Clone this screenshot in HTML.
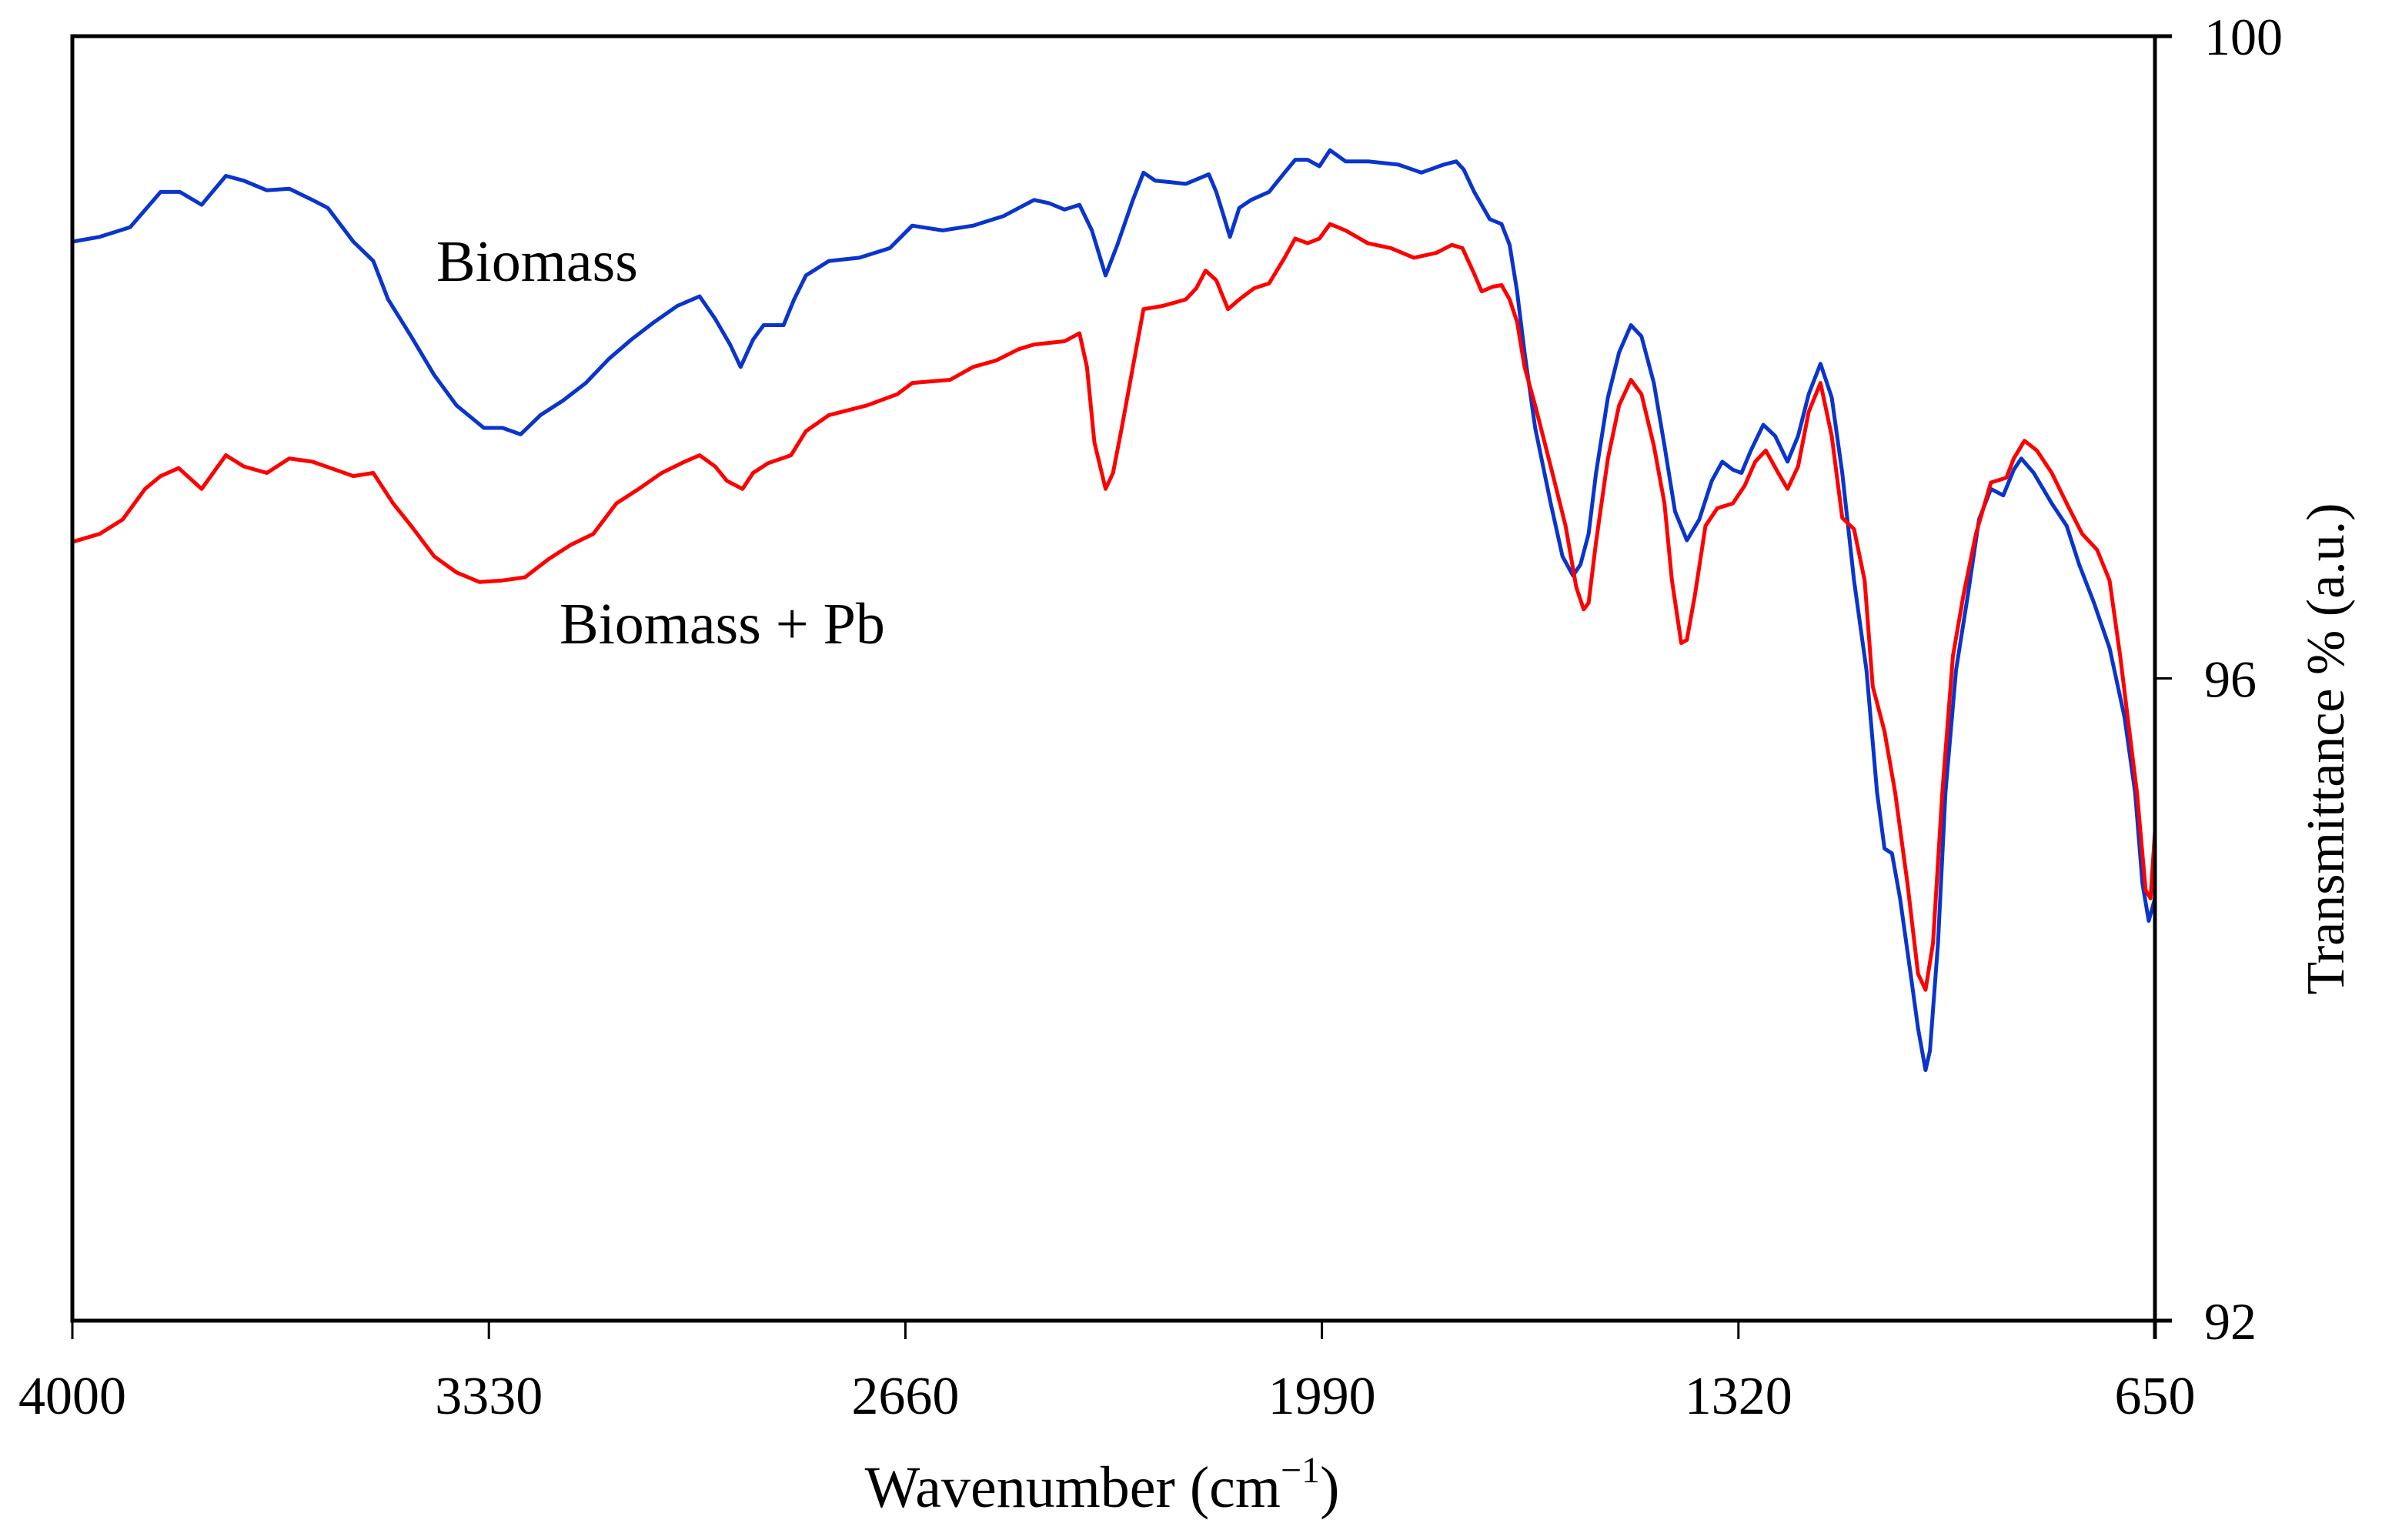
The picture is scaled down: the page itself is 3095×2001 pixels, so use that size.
<!DOCTYPE html>
<html><head><meta charset="utf-8"><style>
html,body{margin:0;padding:0;background:#fff;}
svg{display:block;font-family:"Liberation Serif",serif;}
</style></head><body>
<svg id="chart" width="3095" height="2001" viewBox="0 0 3095 2001" xmlns="http://www.w3.org/2000/svg">
<rect x="0" y="0" width="3095" height="2001" fill="#fff"/>
<g id="series"></g>
<g id="axes"></g>
<text x="567" y="365" font-size="76">Biomass</text>
<text x="727" y="836" font-size="76">Biomass + Pb</text>
<text x="1432" y="1958" font-size="76" text-anchor="middle">Wavenumber (cm<tspan dy="-32" font-size="48">−1</tspan><tspan dy="32">)</tspan></text>
<text transform="translate(3045,973) rotate(-90)" font-size="70" text-anchor="middle">Transmittance % (a.u.)</text>
</svg>
<script>
const xTicks = [4000, 3330, 2660, 1990, 1320, 650];
const yTicks = [100, 96, 92];
const blueWn = [4000,3956,3907,3858,3827,3792,3753,3724,3687,3651,3614,3589,3548,3516,3492,3455,3418,3382,3338,3308,3279,3247,3211,3174,3137,3101,3064,3027,2991,2966,2942,2925,2905,2888,2856,2839,2820,2783,2734,2685,2649,2600,2551,2502,2453,2429,2404,2380,2360,2338,2319,2294,2277,2258,2233,2209,2184,2172,2160,2148,2138,2123,2104,2075,2050,2033,2013,1994,1977,1952,1916,1867,1830,1794,1774,1762,1745,1720,1701,1688,1676,1664,1647,1622,1603,1586,1574,1561,1549,1530,1512,1493,1476,1456,1439,1422,1403,1383,1363,1346,1329,1315,1300,1280,1261,1241,1224,1207,1188,1170,1153,1134,1114,1097,1085,1073,1060,1043,1031,1019,1012,999,987,970,951,933,914,894,877,865,845,816,792,772,748,723,699,682,670,660,650];
const blueT = [98.72,98.75,98.81,99.03,99.03,98.95,99.13,99.10,99.04,99.05,98.98,98.93,98.72,98.60,98.36,98.13,97.89,97.70,97.56,97.56,97.52,97.64,97.73,97.84,97.99,98.11,98.22,98.32,98.38,98.24,98.08,97.94,98.11,98.20,98.20,98.36,98.51,98.60,98.62,98.68,98.82,98.79,98.82,98.88,98.98,98.96,98.92,98.95,98.79,98.51,98.70,98.98,99.15,99.10,99.09,99.08,99.12,99.14,99.03,98.88,98.75,98.93,98.98,99.03,99.15,99.23,99.23,99.19,99.29,99.22,99.22,99.20,99.15,99.20,99.22,99.17,99.03,98.86,98.83,98.70,98.41,98.03,97.56,97.09,96.76,96.64,96.71,96.90,97.28,97.75,98.03,98.20,98.13,97.84,97.45,97.04,96.86,96.99,97.23,97.35,97.30,97.28,97.42,97.58,97.51,97.35,97.51,97.77,97.96,97.75,97.28,96.61,96.05,95.29,94.94,94.91,94.63,94.16,93.82,93.56,93.68,94.35,95.29,96.05,96.52,96.99,97.18,97.14,97.30,97.37,97.28,97.09,96.95,96.71,96.47,96.19,95.76,95.29,94.72,94.49,94.63];
const redWn = [4000,3956,3919,3883,3858,3829,3792,3753,3724,3687,3651,3614,3577,3548,3516,3484,3455,3418,3382,3345,3308,3272,3235,3199,3162,3125,3089,3052,3015,2991,2966,2947,2922,2905,2881,2844,2820,2783,2722,2673,2649,2588,2551,2514,2478,2453,2404,2380,2368,2356,2338,2326,2312,2294,2277,2246,2209,2192,2177,2160,2141,2123,2099,2075,2050,2033,2013,1994,1977,1952,1916,1879,1842,1806,1781,1764,1745,1733,1715,1701,1688,1676,1664,1647,1622,1598,1581,1569,1561,1549,1530,1512,1493,1476,1456,1439,1427,1412,1403,1390,1373,1354,1329,1310,1293,1276,1256,1241,1224,1207,1188,1170,1153,1134,1117,1104,1085,1068,1048,1031,1019,1007,992,975,958,938,914,889,877,860,840,816,792,767,743,723,706,694,679,665,657,650];
const redT = [96.85,96.90,96.99,97.18,97.26,97.31,97.18,97.39,97.32,97.28,97.37,97.35,97.30,97.26,97.28,97.09,96.95,96.76,96.66,96.60,96.61,96.63,96.74,96.83,96.90,97.09,97.18,97.28,97.35,97.39,97.32,97.23,97.18,97.28,97.34,97.39,97.54,97.64,97.70,97.77,97.84,97.86,97.94,97.98,98.05,98.08,98.10,98.15,97.94,97.47,97.18,97.28,97.56,97.94,98.30,98.32,98.36,98.43,98.54,98.48,98.30,98.36,98.43,98.46,98.62,98.74,98.71,98.74,98.83,98.79,98.71,98.68,98.62,98.65,98.70,98.68,98.52,98.41,98.44,98.45,98.36,98.22,97.94,97.70,97.32,96.95,96.57,96.43,96.47,96.85,97.37,97.70,97.86,97.77,97.45,97.09,96.61,96.22,96.24,96.52,96.95,97.06,97.09,97.20,97.35,97.42,97.28,97.18,97.32,97.66,97.84,97.51,97.00,96.93,96.61,95.95,95.67,95.29,94.72,94.16,94.06,94.35,95.29,96.14,96.52,96.90,97.22,97.25,97.37,97.48,97.42,97.28,97.09,96.90,96.80,96.61,96.14,95.76,95.29,94.68,94.63,95.05];

const X0 = 94, X1 = 2800, Y0 = 47, Y1 = 1716;
function xs(w){ return X0 + (4000 - w) / (4000 - 650) * (X1 - X0); }
function ys(t){ return Y0 + (100 - t) / (100 - 92) * (Y1 - Y0); }
const NS = "http://www.w3.org/2000/svg";
const sg = document.getElementById('series');
const ag = document.getElementById('axes');

function drawSeries(wn, tv, color, name){
  let d = '';
  for (let i = 0; i < wn.length; i++){
    d += (i ? 'L' : 'M') + xs(wn[i]).toFixed(1) + ',' + ys(tv[i]).toFixed(1);
  }
  const p = document.createElementNS(NS, 'path');
  p.setAttribute('d', d);
  p.setAttribute('fill', 'none');
  p.setAttribute('stroke', color);
  p.setAttribute('stroke-width', '5');
  p.setAttribute('stroke-linejoin', 'round');
  
  
  sg.appendChild(p);
}
drawSeries(blueWn, blueT, '#0a35cc', 'series-biomass');
drawSeries(redWn, redT, '#ff0000', 'series-biomass-pb');

function line(x1,y1,x2,y2,name){
  const l = document.createElementNS(NS, 'line');
  l.setAttribute('x1', x1); l.setAttribute('y1', y1);
  l.setAttribute('x2', x2); l.setAttribute('y2', y2);
  l.setAttribute('stroke', '#000');
  l.setAttribute('stroke-width', '5');
  
  
  ag.appendChild(l);
}
line(X0, Y0-2.5, X0, Y1+2.5, 'left-axis-line');
line(X1, Y0-2.5, X1, Y1+24, 'right-axis-line');
line(X0-2.5, Y0, X1+22, Y0, 'top-axis-line');
line(X0-2.5, Y1, X1+22, Y1, 'x-axis-line');

xTicks.forEach(function(v){
  const x = xs(v);
  const tk = document.createElementNS(NS, 'line');
  tk.setAttribute('x1', x); tk.setAttribute('y1', Y1);
  tk.setAttribute('x2', x); tk.setAttribute('y2', Y1 + 24);
  tk.setAttribute('stroke', '#000');
  tk.setAttribute('stroke-width', '3');
  
  
  ag.appendChild(tk);
  const t = document.createElementNS(NS, 'text');
  t.setAttribute('x', x);
  t.setAttribute('y', 1837);
  t.setAttribute('font-size', '70');
  t.setAttribute('text-anchor', 'middle');
  
  
  t.textContent = v;
  ag.appendChild(t);
});
yTicks.forEach(function(v){
  const y = ys(v);
  const tk = document.createElementNS(NS, 'line');
  tk.setAttribute('x1', X1); tk.setAttribute('y1', y);
  tk.setAttribute('x2', X1 + 22); tk.setAttribute('y2', y);
  tk.setAttribute('stroke', '#000');
  tk.setAttribute('stroke-width', '3');
  
  
  ag.appendChild(tk);
  const t = document.createElementNS(NS, 'text');
  t.setAttribute('x', 2864);
  t.setAttribute('y', y + 24);
  t.setAttribute('font-size', '68');
  
  
  t.textContent = v;
  ag.appendChild(t);
});
</script>
</body></html>
